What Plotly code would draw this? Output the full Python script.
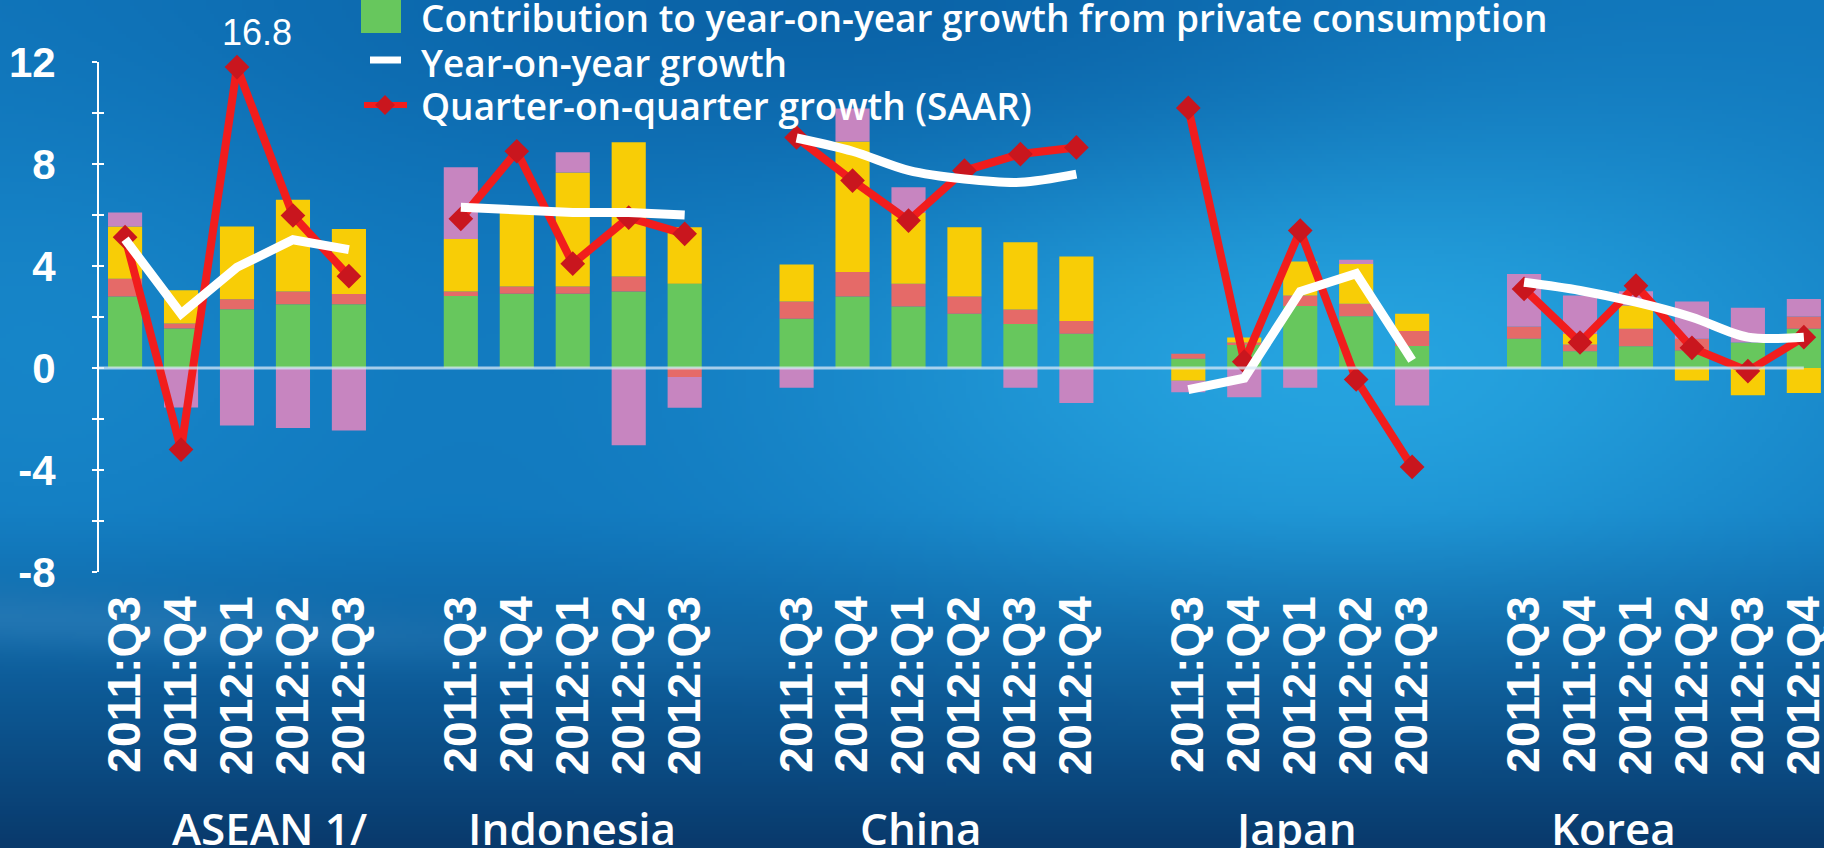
import base64
import struct
import zlib

import numpy as np
import plotly.graph_objects as go

# ---------------------------------------------------------------- data
group_names = ["ASEAN 1/", "Indonesia", "China", "Japan", "Korea"]

quarters = [
    ["2011:Q3", "2011:Q4", "2012:Q1", "2012:Q2", "2012:Q3"],
    ["2011:Q3", "2011:Q4", "2012:Q1", "2012:Q2", "2012:Q3"],
    ["2011:Q3", "2011:Q4", "2012:Q1", "2012:Q2", "2012:Q3", "2012:Q4"],
    ["2011:Q3", "2011:Q4", "2012:Q1", "2012:Q2", "2012:Q3"],
    ["2011:Q3", "2011:Q4", "2012:Q1", "2012:Q2", "2012:Q3", "2012:Q4"],
]

y_tick_values = [-8, -4, 0, 4, 8, 12]
y_tick_labels = ["-8", "-4", "0", "4", "8", "12"]

# contributions to year-on-year growth (percentage points), bars in group order
private_consumption = [
    2.80, 1.55, 2.30, 2.50, 2.50,
    2.82, 2.91, 2.91, 3.00, 3.30,
    1.93, 2.80, 2.41, 2.13, 1.73, 1.34,
    0.36, 0.90, 2.43, 2.03, 0.86,
    1.15, 0.66, 0.85, 0.69, 1.00, 1.54,
]
government_consumption = [
    0.70, 0.20, 0.40, 0.50, 0.40,
    0.18, 0.29, 0.29, 0.59, -0.35,
    0.68, 0.96, 0.89, 0.67, 0.56, 0.50,
    0.20, 0.10, 0.41, 0.49, 0.59,
    0.48, 0.26, 0.69, 0.46, 0.00, 0.48,
]
investment = [
    2.05, 1.30, 2.85, 3.60, 2.55,
    2.06, 3.00, 4.47, 5.26, 2.22,
    1.45, 5.12, 2.80, 2.72, 2.64, 2.53,
    -0.50, 0.20, 1.34, 1.56, 0.68,
    0.00, 0.42, 0.91, -0.49, -1.07, -0.98,
]
net_exports = [
    0.55, -1.55, -2.25, -2.35, -2.45,
    2.81, 0.00, 0.79, -3.03, -1.21,
    -0.77, 1.30, 0.99, 0.00, -0.77, -1.37,
    -0.45, -1.15, -0.77, 0.17, -1.47,
    2.06, 1.50, 0.56, 1.46, 1.36, 0.69,
]
yoy_growth = [
    5.05, 2.13, 3.95, 5.03, 4.64,
    6.30, 6.20, 6.10, 6.10, 6.00,
    9.02, 8.50, 7.75, 7.41, 7.28, 7.60,
    -0.85, -0.40, 3.00, 3.70, 0.30,
    3.36, 3.04, 2.58, 1.99, 1.21, 1.21,
]
qoq_growth = [
    5.13, -3.20, 16.80, 5.98, 3.60,
    5.85, 8.50, 4.09, 5.90, 5.26,
    9.04, 7.35, 5.78, 7.74, 8.39, 8.65,
    10.20, 0.25, 5.39, -0.45, -3.88,
    3.10, 1.00, 3.23, 0.79, -0.12, 1.21,
]

# ---------------------------------------------------------------- styling
GREEN, SALMON, YELLOW, PURPLE = "#67c75d", "#e56a68", "#f8cd06", "#c785c0"
RED_LINE, RED_MARK = "#f11d1d", "#c9161e"
Y_CAP = 11.8                      # values above the axis top are pinned here
SMOOTH_GROUPS = {"China", "Korea"}
LABEL_X = [2.58, 7.99, 14.22, 20.9, 26.6]

W, H = 1824, 848
PL, PR, PT, PB = 99, 1824, 62, 572          # plot area in pixels


def paper_x(px):
    return (px - PL) / (PR - PL)


def paper_y(py):
    return (PB - py) / (PB - PT)


# x positions: one empty slot between groups
xpos, ticktext, group_slices = [], [], []
slot = 0
for qs in quarters:
    start = len(xpos)
    for q in qs:
        xpos.append(slot)
        ticktext.append(q)
        slot += 1
    group_slices.append(slice(start, len(xpos)))
    slot += 1
xpos = np.array(xpos, dtype=float)


# ---------------------------------------------------------------- background
def png_data_uri(rgb):
    h, w, _ = rgb.shape
    raw = b"".join(b"\x00" + rgb[i].tobytes() for i in range(h))

    def chunk(tag, data):
        c = struct.pack(">I", len(data)) + tag + data
        return c + struct.pack(">I", zlib.crc32(tag + data) & 0xFFFFFFFF)

    png = (b"\x89PNG\r\n\x1a\n"
           + chunk(b"IHDR", struct.pack(">IIBBBBB", w, h, 8, 2, 0, 0, 0))
           + chunk(b"IDAT", zlib.compress(raw, 9))
           + chunk(b"IEND", b""))
    return "data:image/png;base64," + base64.b64encode(png).decode()


def backdrop(w=456, h=212):
    v, u = np.mgrid[0:h, 0:w].astype(float)
    u /= w - 1
    v /= h - 1
    img = np.zeros((h, w, 3))
    img[:] = np.array([16, 118, 188], float)

    def blend(target, weight):
        wgt = np.clip(weight, 0, 1)[..., None]
        img[:] = img * (1 - wgt) + np.array(target, float) * wgt

    # bright glow right of centre
    blend([38, 164, 224], np.exp(-(((u - 0.74) / 0.30) ** 2 + ((v - 0.42) / 0.32) ** 2)))
    # soft lighter patch on the left
    blend([26, 140, 206], 0.7 * np.exp(-(((u - 0.02) / 0.18) ** 2 + ((v - 0.40) / 0.30) ** 2)))
    # darker band along the top
    blend([10, 96, 164], 0.85 * np.exp(-(((u - 0.45) / 0.35) ** 2 + ((v - 0.0) / 0.22) ** 2)))
    # deep navy towards the bottom
    blend([9, 58, 108], np.clip((v - 0.60) / 0.40, 0, 1) ** 1.2)
    # pale streak sweeping in from the lower left
    curve = 0.73 + 0.10 * u
    blend([48, 128, 186], 0.55 * np.exp(-((v - curve) / 0.035) ** 2) * np.exp(-(u / 0.30) ** 2))
    return png_data_uri(np.clip(img, 0, 255).astype(np.uint8))


# ---------------------------------------------------------------- figure
fig = go.Figure()

for name, vals, col in [
    ("Private consumption", private_consumption, GREEN),
    ("Government consumption", government_consumption, SALMON),
    ("Investment", investment, YELLOW),
    ("Net exports", net_exports, PURPLE),
]:
    fig.add_trace(go.Bar(
        x=xpos, y=vals, name=name, width=0.61,
        marker=dict(color=col, line=dict(width=0)),
        showlegend=False, hoverinfo="skip",
    ))

qoq_arr = np.array(qoq_growth)
qoq_plot = np.minimum(qoq_arr, Y_CAP)
yoy_arr = np.array(yoy_growth)

for gname, sl in zip(group_names, group_slices):
    fig.add_trace(go.Scatter(
        x=xpos[sl], y=qoq_plot[sl], mode="lines+markers",
        line=dict(color=RED_LINE, width=8),
        marker=dict(symbol="diamond", size=19, color=RED_MARK),
        cliponaxis=False, showlegend=False, hoverinfo="skip",
    ))
for gname, sl in zip(group_names, group_slices):
    smooth = gname in SMOOTH_GROUPS
    fig.add_trace(go.Scatter(
        x=xpos[sl], y=yoy_arr[sl], mode="lines",
        line=dict(color="white", width=9,
                  shape="spline" if smooth else "linear", smoothing=0.9),
        showlegend=False, hoverinfo="skip",
    ))

# zero reference line, drawn over the bars
fig.add_shape(type="line", xref="x", yref="y", x0=-0.47, x1=xpos[-1], y0=0, y1=0,
              line=dict(color="rgba(215,232,248,0.75)", width=3), layer="above")

# value label for points pinned at the axis top
for xi, v in zip(xpos, qoq_arr):
    if v > Y_CAP:
        fig.add_annotation(x=xi, y=Y_CAP, xref="x", yref="y", text=f"{v:.1f}",
                           showarrow=False, xshift=20, yshift=35,
                           font=dict(family="Liberation Sans", size=36, color="white"))

# group names under the quarter labels
for gname, lx in zip(group_names, LABEL_X):
    fig.add_annotation(x=lx, y=paper_y(828), xref="x", yref="paper", text=gname,
                       showarrow=False, xanchor="center", yanchor="middle",
                       font=dict(family="Open Sans", size=44, color="white", weight=600))

# legend
LEG_FONT = dict(family="Open Sans", size=37, color="white", weight=600)
fig.add_shape(type="rect", xref="paper", yref="paper",
              x0=paper_x(361), x1=paper_x(401), y0=paper_y(33), y1=paper_y(-6),
              fillcolor=GREEN, line=dict(width=0))
fig.add_shape(type="line", xref="paper", yref="paper",
              x0=paper_x(370), x1=paper_x(401), y0=paper_y(60), y1=paper_y(60),
              line=dict(color="white", width=7))
fig.add_shape(type="line", xref="paper", yref="paper",
              x0=paper_x(364), x1=paper_x(407), y0=paper_y(105), y1=paper_y(105),
              line=dict(color=RED_LINE, width=6))
cx, cy, r = 385, 105, 10
fig.add_shape(type="path", xref="paper", yref="paper",
              path=(f"M {paper_x(cx - r)} {paper_y(cy)} L {paper_x(cx)} {paper_y(cy - r)} "
                    f"L {paper_x(cx + r)} {paper_y(cy)} L {paper_x(cx)} {paper_y(cy + r)} Z"),
              fillcolor=RED_MARK, line=dict(width=0))
for text, ty in [
    ("Contribution to year-on-year growth from private consumption", 17),
    ("Year-on-year growth", 62),
    ("Quarter-on-quarter growth (SAAR)", 105),
]:
    fig.add_annotation(x=paper_x(419), y=paper_y(ty), xref="paper", yref="paper",
                       text=text, showarrow=False, xanchor="left", yanchor="middle",
                       font=LEG_FONT)

TICK_STYLE = dict(tickcolor="white", tickwidth=2, ticklen=5)
fig.update_layout(
    width=W, height=H,
    margin=dict(l=PL, r=W - PR, t=PT, b=H - PB, pad=0),
    barmode="relative",
    paper_bgcolor="#1376bc",
    plot_bgcolor="rgba(0,0,0,0)",
    images=[dict(source=backdrop(), xref="paper", yref="paper",
                 x=paper_x(0), y=paper_y(0), sizex=W / (PR - PL), sizey=H / (PB - PT),
                 xanchor="left", yanchor="top", sizing="stretch", layer="below")],
    xaxis=dict(
        range=[-0.466, 30.36], tickmode="array", tickvals=xpos, ticktext=ticktext,
        tickangle=-90, ticks="", showline=False, showgrid=False, zeroline=False,
        ticklabelstandoff=14, ticklabeloverflow="allow", automargin=False,
        tickfont=dict(family="Liberation Sans", size=46, color="white", weight="bold"),
    ),
    yaxis=dict(
        range=[-8, 12], tickmode="array", tickvals=y_tick_values, ticktext=y_tick_labels,
        ticks="outside", **TICK_STYLE,
        minor=dict(tick0=0, dtick=2, ticks="outside", **TICK_STYLE),
        showline=True, linecolor="white", linewidth=2,
        showgrid=False, zeroline=False, automargin=False, ticklabelstandoff=28,
        tickfont=dict(family="Liberation Sans", size=42, color="white", weight="bold"),
    ),
    yaxis2=dict(
        range=[-8, 12], tick0=0, dtick=4, ticks="inside", **TICK_STYLE,
        minor=dict(tick0=0, dtick=2, ticks="inside", **TICK_STYLE),
        overlaying="y", side="left", showline=False, showgrid=False, zeroline=False,
        showticklabels=False,
    ),
)
fig.add_trace(go.Scatter(x=[0], y=[0], yaxis="y2", mode="markers",
                         marker=dict(opacity=0), showlegend=False, hoverinfo="skip"))

fig.write_html("out.html", config={"displayModeBar": False})
